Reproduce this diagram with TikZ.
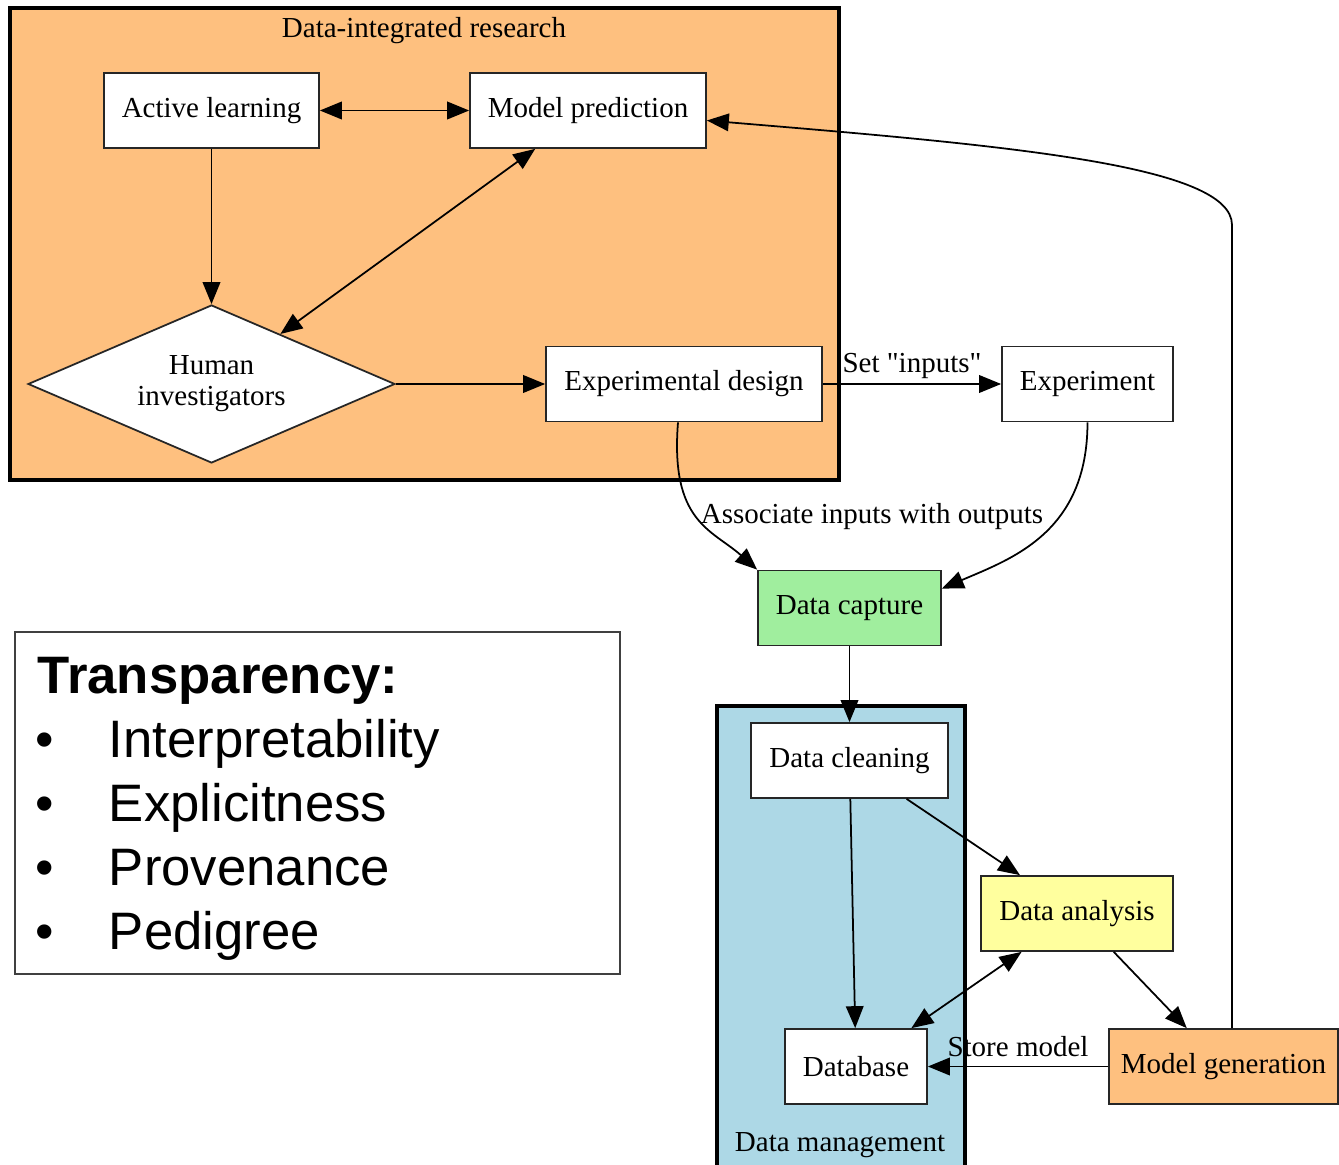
\documentclass[tikz,border=0pt]{standalone}
\usepackage{fontspec}
\setmainfont{Liberation Serif}
\newfontfamily\legendfont{Liberation Sans}
\usetikzlibrary{arrows.meta,shapes.geometric}

\definecolor{researchorange}{RGB}{254,192,127}
\definecolor{capturegreen}{RGB}{160,238,158}
\definecolor{analysisyellow}{RGB}{255,255,158}
\definecolor{managementblue}{RGB}{173,216,230}

\newcommand{\gvfont}{\fontsize{16.5}{17.6}\selectfont}

\tikzset{%
  every box/.style={
    rectangle,
    draw=black!85,
    line width=1pt,
    fill=white,
    minimum height=1.5cm,
    inner sep=0pt,
    font=\gvfont
  },
  box capture/.style={fill=capturegreen},
  box analysis/.style={fill=analysisyellow},
  box modelgen/.style={fill=researchorange},
  human box/.style={
    diamond,
    draw=black!85,
    line width=1pt,
    fill=white,
    aspect=2.3,
    inner sep=0pt,
    minimum width=7.34cm,
    minimum height=3.16cm,
    align=center,
    font=\gvfont
  },
  cluster/.style={
    draw=black,
    line width=2pt
  },
  cluster label/.style={font=\gvfont, inner sep=0pt},
  edge label/.style={font=\gvfont, inner sep=1pt},
  legend box/.style={
    rectangle,
    draw=black!75,
    line width=1.2pt,
    minimum width=12.1cm,
    minimum height=6.84cm
  },
  legend text/.style={
    anchor=base west,
    inner sep=0pt,
    font=\legendfont\fontsize{30}{36}\selectfont
  },
}

\begin{document}
\begin{tikzpicture}[x=0.02cm, y=-0.02cm, >={Triangle[length=12.5pt, width=10pt]}, line width=1pt]

\useasboundingbox (0,0) rectangle (1339,1165);

% clusters
\draw[cluster, fill=researchorange] (10,8) rectangle (839,480);
\draw[cluster, fill=managementblue] (717,706) rectangle (965,1185);
\node[cluster label] (research-label) at (424,31) {Data-integrated research};
\node[cluster label] (management-label) at (840,1145) {Data management};

% nodes
\node[every box/.try, minimum width=4.3cm] (active) at (211.5,110.5) {Active learning};
\node[every box/.try, minimum width=4.72cm] (predict) at (588,110.5) {Model prediction};
\node[human box] (human) at (211.5,384) {Human\\investigators};
\node[every box/.try, minimum width=5.52cm] (design) at (684,384) {Experimental design};
\node[every box/.try, minimum width=3.42cm] (experiment) at (1087.5,384) {Experiment};
\node[every box/.try, box capture/.try, minimum width=3.66cm] (capture) at (849.5,608) {Data capture};
\node[every box/.try, minimum width=3.94cm] (cleaning) at (849.5,760.5) {Data cleaning};
\node[every box/.try, box analysis/.try, minimum width=3.84cm] (analysis) at (1077,913.5) {Data analysis};
\node[every box/.try, minimum width=2.84cm] (database) at (856,1066.5) {Database};
\node[every box/.try, box modelgen/.try, minimum width=4.58cm] (modelgen) at (1223.5,1066.5) {Model generation};

% edges
\draw[<->] (active) -- (predict);
\draw[->] (active) -- (human);
\draw[<->] (predict) -- (human);
\draw[->] (human) -- (design);
\draw[->] (design) -- (experiment)
  node[edge label, midway, above, yshift=0.06cm] (set-label) {Set \textquotedbl inputs\textquotedbl};
\draw[->] ([xshift=-0.12cm]design.south) .. controls +(-8,100) and +(-45,-40) .. (capture.north west);
\node[edge label] (assoc-label) at (872,517) {Associate inputs with outputs};
\draw[->] (experiment.south) .. controls +(0,110) and +(70,-30) .. ([yshift=-0.38cm]capture.north east);
\draw[->] (capture) -- (cleaning);
\draw[->] (cleaning) -- (database);
\draw[->] (cleaning) -- (analysis);
\draw[<->] (analysis) -- (database);
\draw[->] (analysis) -- (modelgen);
\draw[->] (modelgen) -- (database)
  node[edge label, midway, above, yshift=0.14cm] (store-label) {Store model};
\coordinate (turn) at (1232,225);
\draw[->] (modelgen.north -| turn) -- (turn)
  .. controls +(0,-60) and +(300,25) .. ([yshift=-0.2cm]predict.east);

% legend
\node[legend box] (legend) at (317.5,803) {};
\node[legend text, font=\legendfont\bfseries\fontsize{30}{36}\selectfont] (legend-title) at (37,693) {Transparency:};
\foreach \l [count=\i] in {Interpretability, Explicitness, Provenance, Pedigree} {
  \node[legend text] (bullet-\i) at (35,693+\i*64) {•};
  \node[legend text] (item-\i) at (108,693+\i*64) {\l};
}

\end{tikzpicture}
\end{document}
